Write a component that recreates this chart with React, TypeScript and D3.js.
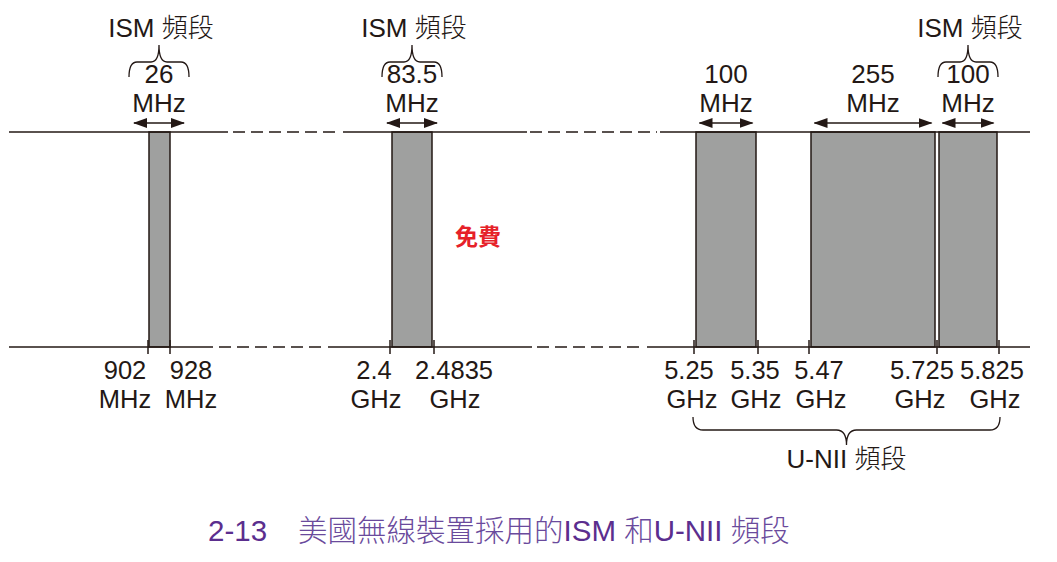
import React from "react";
import * as d3 from "d3";

// frequency bands (MHz)
const bandStart = [902, 2400, 5250, 5470, 5725];
const bandEnd = [928, 2483.5, 5350, 5725, 5825];
const bandWidthLabel = ["26", "83.5", "100", "255", "100"];
const ismBands = [0, 1, 4];

// band edge ticks on the bottom line
const tickValues = [902, 928, 2400, 2483.5, 5250, 5350, 5470, 5725, 5825];
const tickNumbers = ["902", "928", "2.4", "2.4835", "5.25", "5.35", "5.47", "5.725", "5.825"];
const tickUnits = ["MHz", "MHz", "GHz", "GHz", "GHz", "GHz", "GHz", "GHz", "GHz"];

const uniiRange = [5250, 5825];

// layout: broken axis, each edge gets its own pixel stop
const tickPixels = [148, 170, 390, 434, 694, 758, 809, 937, 999];
const numberDx = [-23, 21, -16, 20, -5, -3, 10, -15, -7];
const unitDx = [-23, 21, -14, 21, -2, -2, 12, -17, -4];

const topLine = [
  [9, 228, false],
  [233, 340, true],
  [343, 527, false],
  [530, 657, true],
  [660, 1030, false],
] as const;
const bottomLine = [
  [9, 213, false],
  [219, 323, true],
  [328, 532, false],
  [537, 642, true],
  [647, 1030, false],
] as const;

const INK = "#231815";
const FONT = "'Liberation Sans', Arial, 'Noto Sans CJK TC', sans-serif";
const FS = 26;

const yTop = 132;
const yBottom = 347;
const yArrow = 123;

function brace(x1: number, x2: number, yEnd: number, yArm: number, yTip: number, r: number) {
  const cx = (x1 + x2) / 2;
  const p = d3.path();
  p.moveTo(x1, yEnd);
  p.quadraticCurveTo(x1, yArm, x1 + r, yArm);
  p.lineTo(cx - r, yArm);
  p.quadraticCurveTo(cx, yArm, cx, yTip);
  p.quadraticCurveTo(cx, yArm, cx + r, yArm);
  p.lineTo(x2 - r, yArm);
  p.quadraticCurveTo(x2, yArm, x2, yEnd);
  return p.toString();
}

export default function App() {
  const x = d3.scaleLinear().domain(tickValues).range(tickPixels);
  const inset = 2;

  const line = (segs: typeof topLine | typeof bottomLine, y: number) =>
    segs.map(([a, b, dashed], i) => (
      <line
        key={i}
        x1={a}
        x2={b}
        y1={y}
        y2={y}
        stroke={INK}
        strokeWidth={1.6}
        strokeDasharray={dashed ? "12 6" : undefined}
      />
    ));

  return (
    <svg
      width={1057}
      height={562}
      style={{ position: "absolute", left: 0, top: 0, background: "#fff" }}
      fontFamily={FONT}
    >
      <defs>
        <marker id="head" viewBox="0 0 14 10" refX={13} refY={5} markerWidth={14} markerHeight={10} markerUnits="userSpaceOnUse" orient="auto-start-reverse">
          <path d="M0,0 L14,5 L0,10 Z" fill={INK} />
        </marker>
      </defs>

      {/* bands */}
      {bandStart.map((s, i) => {
        const x0 = i === 0 ? x(s) + 1 : x(s) + inset;
        const x1 = i === 0 ? x(bandEnd[i]) : x(bandEnd[i]) - inset;
        return (
          <rect
            key={i}
            x={x0}
            y={yTop}
            width={x1 - x0}
            height={yBottom - yTop}
            fill="#9fa09f"
            stroke={INK}
            strokeWidth={1.5}
          />
        );
      })}

      {line(topLine, yTop)}
      {line(bottomLine, yBottom)}

      {/* width arrows + labels */}
      {bandStart.map((s, i) => {
        const cx = (x(s) + x(bandEnd[i])) / 2;
        const len = Math.max(50, x(bandEnd[i]) - x(s) - 11);
        return (
          <g key={i}>
            <line
              x1={cx - len / 2}
              x2={cx + len / 2}
              y1={yArrow}
              y2={yArrow}
              stroke={INK}
              strokeWidth={1.5}
              markerStart="url(#head)"
              markerEnd="url(#head)"
            />
            <text textAnchor="middle" fontSize={FS} fill={INK}>
              <tspan x={cx} y={83}>{bandWidthLabel[i]}</tspan>
              <tspan x={cx} y={112}>MHz</tspan>
            </text>
          </g>
        );
      })}

      {/* ISM braces */}
      {ismBands.map((i) => {
        const cx = (x(bandStart[i]) + x(bandEnd[i])) / 2;
        return (
          <g key={i}>
            <path d={brace(cx - 30, cx + 30, 77, 62, 45, 8)} fill="none" stroke={INK} strokeWidth={1.3} />
            <text x={cx + 2} y={37} textAnchor="middle" fontSize={FS} fill={INK}>
              ISM <tspan fontWeight={300}>頻段</tspan>
            </text>
          </g>
        );
      })}

      {/* edge ticks + labels */}
      {tickValues.map((v, i) => (
        <g key={i}>
          <line x1={x(v)} x2={x(v)} y1={yBottom - 7} y2={yBottom + 7} stroke={INK} strokeWidth={1.5} />
          <text x={x(v) + numberDx[i]} y={379} textAnchor="middle" fontSize={25.5} fill={INK}>
            {tickNumbers[i]}
          </text>
          <text x={x(v) + unitDx[i]} y={408} textAnchor="middle" fontSize={25.5} fill={INK}>
            {tickUnits[i]}
          </text>
        </g>
      ))}

      {/* U-NII brace */}
      <path
        d={brace(x(uniiRange[0]) - 1, x(uniiRange[1]) + 1, 417, 430, 445, 10)}
        fill="none"
        stroke={INK}
        strokeWidth={1.3}
      />
      <text x={(x(uniiRange[0]) + x(uniiRange[1])) / 2} y={468} textAnchor="middle" fontSize={FS} fill={INK}>
        U-NII <tspan fontWeight={300}>頻段</tspan>
      </text>

      <text x={478} y={245} textAnchor="middle" fontSize={23} fontWeight="bold" fill="#e62129" fontFamily="'Noto Sans CJK TC', sans-serif">
        免費
      </text>

      {/* caption */}
      <text y={541} fontSize={29.5} fill="#5b2e8e">
        <tspan x={208}>2-13</tspan>
        <tspan x={298} fontWeight={300} fill="#6a4a9c">美國無線裝置採用的</tspan>
        <tspan>ISM </tspan>
        <tspan fontWeight={300} fill="#6a4a9c">和</tspan>
        <tspan>U-NII </tspan>
        <tspan fontWeight={300} fill="#6a4a9c">頻段</tspan>
      </text>
    </svg>
  );
}
